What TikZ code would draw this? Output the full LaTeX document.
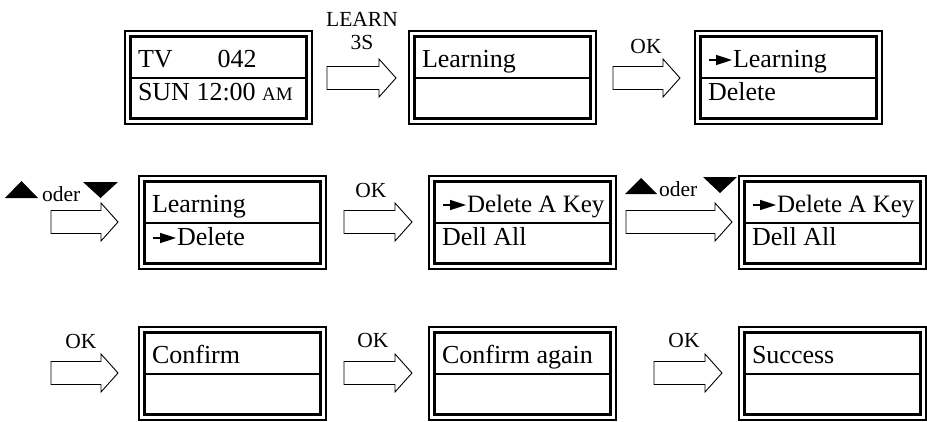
\documentclass[tikz,border=0pt]{standalone}
\usepackage{fontspec}
\setmainfont{Liberation Serif}
\usetikzlibrary{calc}
\tikzset{
  outerbox/.style={draw, line width=1.4pt, minimum width=187pt, minimum height=93pt, inner sep=0pt, outer sep=0pt},
  innerline/.style={line width=2.4pt},
  divline/.style={line width=2pt},
  txt/.style={font=\fontsize{26}{28}\selectfont, inner sep=0pt, outer sep=0pt},
  lbl/.style={font=\fontsize{21.5}{23}\selectfont, inner sep=0pt, outer sep=0pt},
  barrow/.style={draw, line width=0.9pt, fill=white, line join=miter},
  tri/.style={fill=black},
}
\newcommand\selarrow{\tikz[baseline=0pt,x=1pt,y=1pt]{\draw[line width=2pt] (0,7) -- (10,7); \fill (7,1.8) -- (23,7) -- (7,12.2) -- cycle;}\hspace{1pt}}
\newcommand\screenbox[5]{%
  \node[outerbox, anchor=north west] (#1) at (#2,#3) {};
  \draw[innerline] ($(#1.north west)+(5.5,5.5)$) rectangle ($(#1.south east)+(-5.5,-5.5)$);
  \draw[divline] ($(#1.west)+(5.5,0)$) -- ($(#1.east)+(-5.5,0)$);
  \node[txt, anchor=base west] (#1-a) at ($(#1.north west)+(13,36)$) {#4};
  \node[txt, anchor=base west] (#1-b) at ($(#1.north west)+(13,69)$) {#5};
}
\newcommand\blockarrow[4]{%
  \coordinate (#1-tail) at (#2,#4);
  \coordinate (#1-tip) at (#3,#4);
  \draw[barrow] ($(#1-tail)+(0,-11.5)$) -- ($(#1-tip)+(-17,-11.5)$) -- ($(#1-tip)+(-17,-19)$) -- (#1-tip)
     -- ($(#1-tip)+(-17,19)$) -- ($(#1-tip)+(-17,11.5)$) -- ($(#1-tail)+(0,11.5)$) -- cycle;
}
\newcommand\keyline{{\fontsize{25}{27}\selectfont\selarrow Delete A Key}}
\begin{document}
\begin{tikzpicture}[x=1pt,y=-1pt]
\useasboundingbox (0,0) rectangle (927,421);
% row 1
\screenbox{s1}{125}{31}{TV\hspace{45pt}042}{SUN 12:00 {\fontsize{19}{20}\selectfont AM}}
\screenbox{s2}{409}{31}{Learning}{}
\screenbox{s3}{695}{31}{\selarrow Learning}{Delete}
\blockarrow{a1}{327}{396}{78}
\node[lbl, anchor=base] (l1) at (362,26) {LEARN};
\node[lbl, anchor=base] (l2) at (362,49) {3S};
\blockarrow{a2}{613}{680}{78}
\node[lbl, anchor=base] (l3) at (646,53) {OK};
% row 2
\screenbox{s4}{139}{176}{Learning}{\selarrow Delete}
\screenbox{s5}{429}{176}{\keyline}{Dell All}
\screenbox{s6}{739}{176}{\keyline}{Dell All}
\blockarrow{a3}{51}{118}{222}
\fill[tri] (5,198) -- (38,198) -- (21.5,181) -- cycle;
\node[lbl, anchor=base west] (o1) at (42,201) {oder};
\fill[tri] (83,182) -- (118,182) -- (100.5,198) -- cycle;
\blockarrow{a4}{344}{412}{222}
\node[lbl, anchor=base] (l4) at (371,197) {OK};
\blockarrow{a5}{626}{732}{222}
\fill[tri] (625,194) -- (657,194) -- (641,178) -- cycle;
\node[lbl, anchor=base west] (o2) at (659,196) {oder};
\fill[tri] (703,177) -- (737,177) -- (720,193) -- cycle;
% row 3
\screenbox{s7}{139}{327}{Confirm}{}
\screenbox{s8}{429}{327}{Confirm again}{}
\screenbox{s9}{739}{327}{Success}{}
\blockarrow{a6}{51}{118}{373}
\node[lbl, anchor=base] (l5) at (81,348) {OK};
\blockarrow{a7}{344}{412}{373}
\node[lbl, anchor=base] (l6) at (373,347) {OK};
\blockarrow{a8}{654}{722}{373}
\node[lbl, anchor=base] (l7) at (684,347) {OK};
\end{tikzpicture}
\end{document}
